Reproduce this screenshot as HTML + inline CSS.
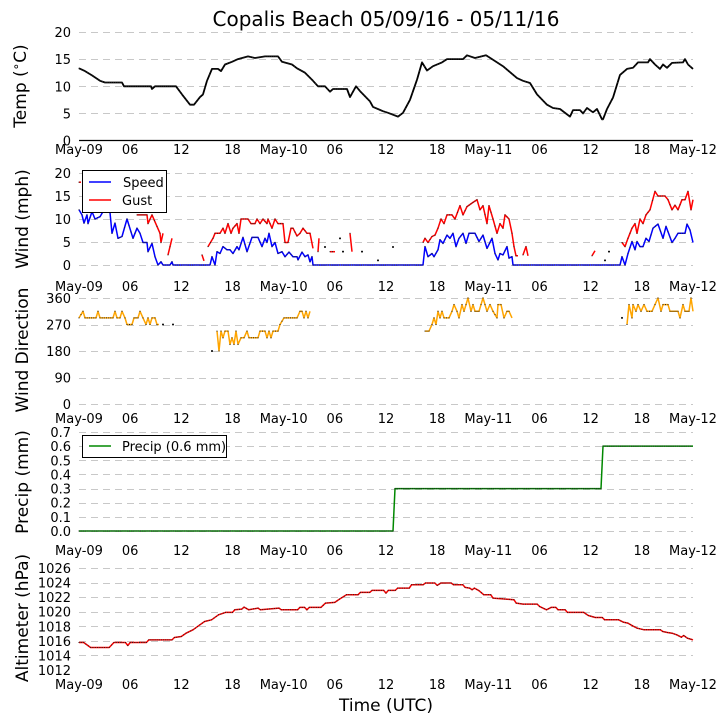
<!DOCTYPE html>
<html><head><meta charset="utf-8"><style>
html,body{margin:0;padding:0;background:#fff;}
svg{display:block;font-family:"DejaVu Sans","Liberation Sans",sans-serif;}
</style></head><body>
<svg id="s" width="727" height="725" viewBox="0 0 727 725" xmlns="http://www.w3.org/2000/svg">
<rect width="727" height="725" fill="#fff"/>
<text x="386" y="26" font-size="20" text-anchor="middle">Copalis Beach 05/09/16 - 05/11/16</text>
<g id="grid" stroke="#c8c8c8" stroke-width="1" stroke-dasharray="7,5"></g>
<line x1="79" y1="140.5" x2="693" y2="140.5" stroke="#000" stroke-width="1.2"/>
<g id="ticks" font-size="13" fill="#000"></g>
<g font-size="17" text-anchor="middle">
<text transform="translate(26,86) rotate(-90)">Temp (<tspan font-size="12" dy="-6">∘</tspan><tspan dy="6">C)</tspan></text>
<text transform="translate(28,219) rotate(-90)">Wind (mph)</text>
<text transform="translate(28,350) rotate(-90)">Wind Direction</text>
<text transform="translate(28,482) rotate(-90)">Precip (mm)</text>
<text transform="translate(28,618) rotate(-90)">Altimeter (hPa)</text>
<text x="386" y="711">Time (UTC)</text>
</g>
<g id="data" fill="none" stroke-linejoin="round"></g>
<g>
<rect x="82.5" y="170.5" width="84" height="42" fill="#fff" stroke="#000"/>
<line x1="89" y1="182" x2="111" y2="182" stroke="#00f" stroke-width="1.5"/>
<line x1="89" y1="200" x2="111" y2="200" stroke="#f00" stroke-width="1.5"/>
<text x="123" y="187" font-size="13">Speed</text>
<text x="122" y="205" font-size="13">Gust</text>
<rect x="82.5" y="435.5" width="144" height="22" fill="#fff" stroke="#000"/>
<line x1="89" y1="446" x2="111" y2="446" stroke="#080" stroke-width="1.5"/>
<text x="122" y="451" font-size="13">Precip (0.6 mm)</text>
</g>
</svg>
<script>
var NS="http://www.w3.org/2000/svg";
function el(p,t,a,txt){var e=document.createElementNS(NS,t);for(var k in a)e.setAttribute(k,a[k]);if(txt!==undefined)e.textContent=txt;p.appendChild(e);return e;}
var grid=document.getElementById('grid'),ticks=document.getElementById('ticks'),data=document.getElementById('data');
function hline(y){el(grid,'line',{x1:79,x2:693,y1:y+0.5,y2:y+0.5});}
var panels=[
 {y0:140.5,y1:32,v0:0,v1:20,ticks:[0,5,10,15,20],fmt:function(v){return v;},xl:154,nog0:true},
 {y0:265,y1:173,v0:0,v1:20,ticks:[0,5,10,15,20],fmt:function(v){return v;},xl:291},
 {y0:404,y1:298,v0:0,v1:360,ticks:[0,90,180,270,360],fmt:function(v){return v;},xl:423},
 {y0:531,y1:432,v0:0,v1:0.7,ticks:[0,.1,.2,.3,.4,.5,.6,.7],fmt:function(v){return v.toFixed(1);},xl:555},
 {y0:670,y1:568,v0:1012,v1:1026,ticks:[1012,1014,1016,1018,1020,1022,1024,1026],fmt:function(v){return v;},xl:689,no0:true}
];
var xl=['May-09','06','12','18','May-10','06','12','18','May-11','06','12','18','May-12'];
panels.forEach(function(p){
 p.Y=function(v){return p.y0+(v-p.v0)*(p.y1-p.y0)/(p.v1-p.v0);};
 p.ticks.forEach(function(v,i){var y=p.Y(v);
  if(!(i==0&&(p.nog0||p.no0)))hline(Math.round(y));
  el(ticks,'text',{x:71,y:y+5,'text-anchor':'end'},p.fmt(v));});
 xl.forEach(function(t,i){el(ticks,'text',{x:79+i*614/12,y:p.xl,'text-anchor':'middle'},t);});
});
function line(p,pts,col,w){
 var segs=[[]];pts.forEach(function(q){if(q===null){segs.push([]);}else segs[segs.length-1].push(q);});
 segs.forEach(function(s){if(!s.length)return;
  if(s.length==1){el(data,'circle',{cx:s[0][0],cy:p.Y(s[0][1]),r:1,fill:'#000',stroke:'none'});return;}
  el(data,'polyline',{points:s.map(function(q){return q[0]+','+p.Y(q[1]).toFixed(1);}).join(' '),stroke:col,'stroke-width':w||1.5});
  // small black dots
  for(var i=0;i<s.length-1;i++){var a=s[i],b=s[i+1];var n=Math.max(1,Math.round((b[0]-a[0])/2.2));
   for(var j=0;j<n;j++){var t=j/n;el(data,'rect',{x:(a[0]+(b[0]-a[0])*t-0.5).toFixed(1),y:(p.Y(a[1]+(b[1]-a[1])*t)-0.5).toFixed(1),width:1,height:1,fill:'#222',stroke:'none'});}}
 });
}
var temp=[[79,13.3],[85,12.8],[92,12],[100,11],[105,10.7],[122,10.7],[124,10],[151,10],[152,9.5],[155,10],[176,10],[182,8.5],[190,6.6],[194,6.6],[200,8],[203,8.5],[207,11],[212,13.2],[218,13.2],[221,12.8],[225,14],[232,14.5],[238,15],[248,15.5],[255,15.2],[265,15.5],[278,15.5],[282,14.5],[292,14],[297,13.3],[305,12.5],[313,11],[318,10],[325,10],[330,9],[333,9.5],[347,9.5],[350,8],[356,10],[360,9.1],[370,7.2],[373,6.2],[383,5.4],[388,5.1],[398,4.4],[403,5.1],[410,7.5],[417,11.2],[422,14.4],[427,12.9],[433,13.7],[442,14.4],[447,15],[463,15],[467,15.7],[475,15.2],[486,15.7],[493,14.9],[503,13.7],[517,11.5],[523,11],[530,10.6],[537,8.5],[547,6.6],[553,6],[560,5.8],[570,4.4],[573,5.6],[580,5.6],[583,5],[587,6],[593,5.2],[597,5.8],[602,3.9],[603,3.9],[607,5.8],[613,7.9],[620,12.1],[627,13.2],[633,13.4],[638,14.4],[648,14.4],[650,15],[655,14],[660,13.2],[663,14],[667,13.4],[672,14.3],[683,14.4],[685,15],[688,14],[693,13.2]];
line(panels[0],temp,'#000',1.8);
var gust=[[79,18],[81,18],null,[137,10.9],[147,10.9],[148,9],[152,10.9],[157,8.4],[160,6.9],[161,4.9],[163,6.9],null,[168,2.2],[172,5.8],null,[202,2.2],[204,0.9],null,[208,4],[213,5.8],[215,6.9],[220,6.9],[223,8],[225,6.9],[228,9],[231,6.9],[233,8],[237,9],[239,6.9],[241,10],[248,10],[251,9],[255,9],[257,10],[260,9],[263,10],[267,9],[268,10],[272,8],[275,10],[278,9],[283,9],[285,4.9],[288,4.9],[291,8],[293,8],[297,6.3],[300,6.9],[303,8],[307,6.9],[310,6.9],[313,3.6],null,[318,2.9],[319,5.8],null,[325,3.9],null,[330,2.9],[335,2.9],null,[340,5.8],null,[343,2.9],null,[350,6.9],[352,2.9],null,[362,2.9],null,[378,1],null,[393,3.9],null,
[423,4.9],[425,5.8],[428,4.9],[432,6.2],[435,6.5],[438,8],[441,10],[444,9],[447,10.9],[452,10.9],[455,10],[460,12.9],[463,10.9],[467,12.7],[473,13.6],[477,14.2],[480,12],[483,12.9],[487,9],[489,12.9],[493,10],[497,6.9],[500,9],[503,8],[505,10.9],[509,10],[512,6.9],[514,4],[516,2],[518,2],null,[523,2.2],[526,4],[528,2],null,[592,2],[595,3.1],null,[605,1],null,[609,2.9],null,
[622,4.9],[625,4],[628,5.8],[632,8],[635,9],[637,6.9],[640,10],[643,9],[646,10.9],[650,12],[655,16],[658,15],[665,15],[668,14.2],[672,12],[675,13],[678,12],[682,14.2],[685,14.2],[688,16],[691,12],[693,14.2]];
var speed=[[79,12],[82,10.9],[84,9.1],[87,10.9],[88,9],[92,11.6],[95,10],[100,10.5],[103,11.6],[107,12],[110,11.4],[112,6.9],[115,9.1],[118,5.8],[122,6.2],[127,10],[133,5.8],[137,8],[140,6.9],[143,4.9],[147,4.9],[148,2.9],[152,4.7],[155,1.8],[158,0],[161,0.7],[163,0],[170,0],[172,0.7],[173,0],[210,0],[212,1.8],[215,0],[217,2.9],[220,2.5],[223,4],[227,3.3],[230,3.3],[233,2.5],[237,4],[239,3.3],[243,6],[247,2.9],[252,6],[258,6],[262,4],[265,5.8],[267,4.9],[269,6.9],[272,4],[275,4.9],[278,2.5],[282,2.9],[285,1.8],[289,2.8],[293,1.8],[297,1.8],[298,1.1],[302,2.8],[305,1.8],[308,2.2],[310,0.7],[312,1.8],[313,0],[423,0],[425,4],[428,1.8],[432,2.5],[434,1.8],[438,3.3],[440,5.5],[443,4.7],[447,6.5],[450,5.8],[453,6.9],[456,4],[459,5.8],[463,6.9],[466,4.7],[469,6.9],[475,6.9],[479,5.1],[483,6.5],[487,3.6],[492,5.8],[495,2.5],[498,1.1],[500,2.5],[503,2.2],[507,4],[509,1.5],[512,1.8],[513,0],[620,0],[622,1.8],[625,0],[628,2.5],[632,5.1],[635,3.3],[637,5.1],[640,4],[643,4],[646,5.8],[649,5.1],[653,8],[658,8.9],[663,5.8],[666,8.4],[672,4.9],[675,5.8],[678,6.9],[685,6.9],[687,8.9],[690,7.6],[693,4.9]];
line(panels[1],gust,'#f00');
line(panels[1],speed,'#00f');
var dir=[[79,292.5],[83,315],[85,292.5],[96,292.5],[98,315],[100,292.5],[113,292.5],[115,315],[117,292.5],[120,292.5],[122,315],[125,292.5],[127,270],[132,270],[134,292.5],[138,292.5],[140,315],[143,292.5],[146,270],[148,292.5],[150,270],[152,292.5],[155,292.5],[157,270],[159,270],null,[163,270],null,[173,270],null,[212,180],null,
[217,247.5],[219,180],[221,247.5],[223,225],[225,247.5],[228,247.5],[230,202.5],[232,225],[234,202.5],[236,247.5],[238,202.5],[241,225],[244,225],[247,247.5],[249,225],[258,225],[260,247.5],[265,247.5],[267,225],[269,247.5],[271,225],[273,247.5],[278,247.5],[280,270],[284,292.5],[297,292.5],[300,315],[302,315],[304,292.5],[306,315],[308,292.5],[310,315],null,
[425,247.5],[429,247.5],[432,270],[434,292.5],[436,270],[438,315],[440,292.5],[442,315],[444,292.5],[449,292.5],[452,315],[454,337.5],[457,315],[459,292.5],[462,337.5],[464,315],[468,360],[471,315],[473,337.5],[475,315],[479,315],[483,360],[485,337.5],[487,315],[490,337.5],[493,315],[497,292.5],[498,337.5],[501,337.5],[504,292.5],[507,315],[509,315],[512,292.5],null,[622,292.5],null,
[627,270],[629,337.5],[632,292.5],[633,337.5],[636,315],[638,337.5],[641,315],[644,337.5],[647,315],[652,315],[655,337.5],[658,360],[661,315],[663,337.5],[668,337.5],[670,315],[678,315],[680,292.5],[683,337.5],[685,315],[689,315],[691,360],[693,315]];
line(panels[2],dir,'#ffa500');
line(panels[3],[[79,0],[393,0],[395,0.3],[601,0.3],[603,0.6],[693,0.6]],'#080');
var A=[[170,278],[180,278],[195,293],[235,293],[245,278],[270,278],[275,287],[280,278],[315,278],[320,270],[370,270],[375,263],[390,260],[400,250],[415,240],[430,225],[440,215],[455,210],[470,195],[485,188],[500,188],[505,180],[520,178],[525,172],[535,180],[555,175],[560,180],[600,175],[605,180],[640,180],[645,173],[655,173],[660,180],[665,173],[690,173],[700,160],[720,158],[730,148],[745,135],[770,135],[775,128],[795,128],[800,122],[825,122],[830,130],[835,122],[850,122],[855,115],[880,115],[885,105],[910,105],[915,100],[935,100],[940,107],[948,100],[970,100],[975,105],[995,105],[1000,113],[1010,115],[1015,120],[1020,115],[1030,123],[1040,135],[1055,135],[1060,145],[1105,150],[1110,160],[1125,163],[1155,163],[1160,170],[1175,180],[1185,173],[1195,173],[1200,180],[1215,180],[1220,188],[1255,188],[1265,197],[1280,203],[1295,203],[1300,210],[1330,210],[1340,217],[1350,220],[1360,228],[1370,235],[1385,240],[1420,240],[1425,245],[1435,248],[1445,250],[1455,255],[1465,262],[1470,257],[1478,265],[1490,270]];
var alt=A.map(function(q){return [+(79+(q[0]-170)*614/1320).toFixed(1),1026-(q[1]-55)/21.8];});
line(panels[4],alt,'#f00');
</script>
</body></html>
